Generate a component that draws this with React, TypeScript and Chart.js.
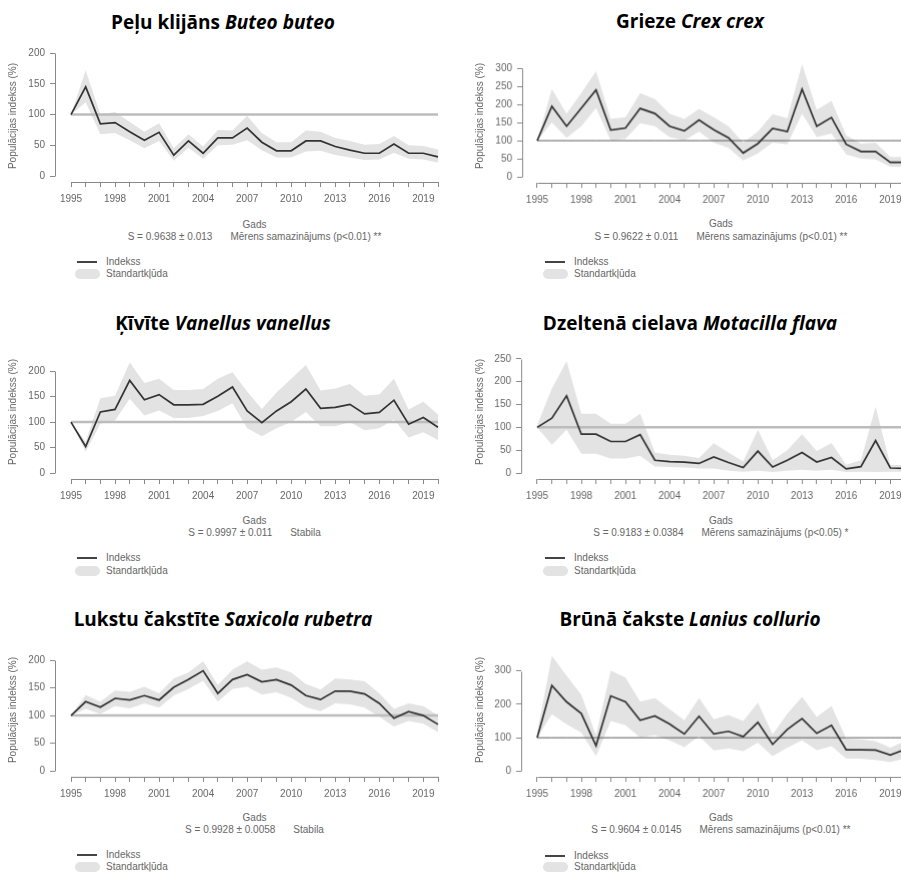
import React, { useEffect, useRef } from "react";
import { Chart, registerables } from "chart.js";
Chart.register(...registerables);

// ---------- DATA ----------
const years = [1995, 1996, 1997, 1998, 1999, 2000, 2001, 2002, 2003, 2004, 2005, 2006, 2007, 2008, 2009, 2010, 2011, 2012, 2013, 2014, 2015, 2016, 2017, 2018, 2019, 2020];
const xLabelYears = [1995, 1998, 2001, 2004, 2007, 2010, 2013, 2016, 2019];
const referenceLevel = 100;

const buteoIndex = [100, 145, 85, 87, 72, 58, 71, 34, 57, 37, 62, 62, 78, 55, 41, 41, 57, 57, 48, 42, 37, 37, 52, 37, 37, 31];
const buteoUpper = [100, 172, 100, 104, 88, 72, 86, 45, 68, 48, 75, 74, 98, 70, 55, 55, 74, 72, 62, 57, 51, 52, 65, 50, 49, 43];
const buteoLower = [100, 120, 68, 70, 58, 45, 57, 25, 46, 28, 50, 51, 58, 42, 30, 30, 40, 41, 34, 30, 26, 27, 38, 28, 27, 22];
const buteoYTicks = [0, 50, 100, 150, 200];

const crexIndex = [100, 195, 140, 190, 240, 129, 135, 189, 175, 140, 127, 157, 130, 108, 66, 92, 134, 125, 242, 140, 164, 90, 70, 70, 40, 40];
const crexUpper = [100, 243, 175, 232, 292, 160, 165, 232, 215, 175, 160, 188, 165, 140, 95, 125, 173, 162, 312, 185, 210, 115, 92, 95, 55, 55];
const crexLower = [100, 150, 108, 140, 190, 100, 105, 148, 140, 110, 100, 125, 95, 80, 45, 65, 95, 90, 175, 110, 120, 62, 50, 48, 28, 28];
const crexYTicks = [0, 50, 100, 150, 200, 250, 300];

const vanellusIndex = [100, 52, 120, 125, 182, 144, 154, 134, 134, 135, 151, 169, 122, 99, 122, 140, 165, 127, 129, 135, 116, 119, 143, 96, 109, 90];
const vanellusUpper = [100, 62, 147, 152, 217, 177, 185, 163, 163, 165, 185, 198, 160, 126, 158, 185, 212, 162, 166, 175, 152, 154, 185, 125, 140, 115];
const vanellusLower = [100, 42, 97, 103, 146, 113, 123, 108, 108, 112, 122, 137, 88, 72, 88, 100, 120, 92, 92, 100, 84, 88, 105, 70, 80, 65];
const vanellusYTicks = [0, 50, 100, 150, 200];

const motacillaIndex = [100, 120, 169, 85, 85, 69, 69, 84, 28, 25, 24, 21, 35, 23, 12, 48, 13, 28, 45, 24, 34, 9, 14, 71, 11, 10];
const motacillaUpper = [105, 185, 245, 130, 130, 108, 108, 130, 45, 40, 38, 33, 65, 45, 25, 95, 28, 50, 85, 48, 66, 18, 28, 145, 18, 17];
const motacillaLower = [100, 62, 95, 42, 42, 32, 32, 38, 14, 13, 12, 10, 10, 5, 3, 5, 2, 5, 7, 5, 7, 2, 3, 2, 3, 3];
const motacillaYTicks = [0, 50, 100, 150, 200, 250];

const saxicolaIndex = [100, 125, 115, 131, 128, 136, 128, 151, 165, 181, 140, 165, 174, 161, 165, 155, 136, 129, 144, 144, 139, 122, 95, 107, 100, 84];
const saxicolaUpper = [100, 137, 125, 145, 143, 152, 140, 167, 178, 198, 155, 183, 198, 183, 187, 178, 157, 147, 167, 165, 162, 140, 112, 122, 117, 100];
const saxicolaLower = [100, 112, 103, 117, 113, 122, 114, 136, 148, 163, 125, 148, 152, 138, 142, 132, 115, 108, 122, 120, 114, 98, 80, 90, 85, 70];
const saxicolaYTicks = [0, 50, 100, 150, 200];

const laniusIndex = [100, 256, 207, 172, 76, 225, 207, 152, 165, 141, 111, 164, 111, 119, 103, 146, 80, 125, 157, 113, 137, 64, 64, 63, 48, 65];
const laniusUpper = [115, 345, 285, 228, 108, 300, 280, 208, 218, 185, 152, 218, 155, 168, 150, 205, 110, 172, 222, 162, 195, 97, 95, 90, 70, 90];
const laniusLower = [100, 170, 140, 115, 45, 150, 137, 100, 108, 92, 72, 105, 62, 68, 60, 85, 45, 70, 92, 63, 75, 38, 37, 33, 27, 38];
const laniusYTicks = [0, 100, 200, 300];

const xTitle = "Gads";
const yTitle = "Populācijas indekss (%)";
const legendLine = "Indekss";
const legendBand = "Standartkļūda";

// ---------- PANELS (text + layout) ----------
type PanelDef = {
  common: string; latin: string; statS: string; statTrend: string;
  index: number[]; upper: number[]; lower: number[]; yTicks: number[];
  refThin: boolean;
  cl: number; cx: number; axisX: number; x1995: number; x2020: number;
  axisY: number; y0: number; yTopPx: number; yMax: number;
  titleBase: number; yTitleX: number; yTitleY: number; gadsY: number; statY: number;
  legX: number; leg1Y: number; leg2Y: number; titleSize: number;
};

const panels: PanelDef[] = [
  { common: "Peļu klijāns", latin: "Buteo buteo", statS: "S = 0.9638 ± 0.013", statTrend: "Mērens samazinājums (p<0.01) **",
    index: buteoIndex, upper: buteoUpper, lower: buteoLower, yTicks: buteoYTicks, refThin: false,
    cl: 0, cx: 223, axisX: 55, x1995: 71, x2020: 438, axisY: 182, y0: 176, yTopPx: 53, yMax: 205,
    titleBase: 30, yTitleX: 13, yTitleY: 116, gadsY: 225, statY: 237, legX: 77, leg1Y: 262, leg2Y: 274, titleSize: 19 },
  { common: "Grieze", latin: "Crex crex", statS: "S = 0.9622 ± 0.011", statTrend: "Mērens samazinājums (p<0.01) **",
    index: crexIndex, upper: crexUpper, lower: crexLower, yTicks: crexYTicks, refThin: true,
    cl: 450, cx: 690, axisX: 522, x1995: 537, x2020: 904.7, axisY: 183, y0: 177, yTopPx: 68.5, yMax: 320,
    titleBase: 29, yTitleX: 480, yTitleY: 116, gadsY: 224, statY: 237, legX: 545, leg1Y: 262, leg2Y: 274, titleSize: 19 },
  { common: "Ķīvīte", latin: "Vanellus vanellus", statS: "S = 0.9997 ± 0.011", statTrend: "Stabila",
    index: vanellusIndex, upper: vanellusUpper, lower: vanellusLower, yTicks: vanellusYTicks, refThin: false,
    cl: 0, cx: 223, axisX: 55, x1995: 71, x2020: 438, axisY: 479.3, y0: 473.3, yTopPx: 371, yMax: 222,
    titleBase: 331, yTitleX: 13, yTitleY: 412, gadsY: 521, statY: 533, legX: 77, leg1Y: 558, leg2Y: 571, titleSize: 19 },
  { common: "Dzeltenā cielava", latin: "Motacilla flava", statS: "S = 0.9183 ± 0.0384", statTrend: "Mērens samazinājums (p<0.05) *",
    index: motacillaIndex, upper: motacillaUpper, lower: motacillaLower, yTicks: motacillaYTicks, refThin: false,
    cl: 450, cx: 690, axisX: 521, x1995: 537, x2020: 904.7, axisY: 479.3, y0: 473.3, yTopPx: 359, yMax: 252,
    titleBase: 331, yTitleX: 480, yTitleY: 412, gadsY: 521, statY: 533, legX: 545, leg1Y: 558, leg2Y: 571, titleSize: 19 },
  { common: "Lukstu čakstīte", latin: "Saxicola rubetra", statS: "S = 0.9928 ± 0.0058", statTrend: "Stabila",
    index: saxicolaIndex, upper: saxicolaUpper, lower: saxicolaLower, yTicks: saxicolaYTicks, refThin: false,
    cl: 0, cx: 223, axisX: 55, x1995: 71, x2020: 438, axisY: 776.7, y0: 770.7, yTopPx: 660, yMax: 202,
    titleBase: 627, yTitleX: 13, yTitleY: 710, gadsY: 818, statY: 830, legX: 77, leg1Y: 855, leg2Y: 867, titleSize: 19 },
  { common: "Brūnā čakste", latin: "Lanius collurio", statS: "S = 0.9604 ± 0.0145", statTrend: "Mērens samazinājums (p<0.01) **",
    index: laniusIndex, upper: laniusUpper, lower: laniusLower, yTicks: laniusYTicks, refThin: true,
    cl: 450, cx: 690, axisX: 521, x1995: 537, x2020: 904.7, axisY: 776.7, y0: 771, yTopPx: 670.7, yMax: 350,
    titleBase: 627, yTitleX: 480, yTitleY: 710, gadsY: 818, statY: 830, legX: 545, leg1Y: 856, leg2Y: 867, titleSize: 19 },
];

const SMALL_FONT = '"Liberation Sans", Arial, sans-serif';
const TEXT_GRAY = "#666";
const AXIS_GRAY = "#888";
const BAND = "#e3e3e3";
const LINE = "#333";

function geometry(p: PanelDef) {
  const k = (p.x2020 - p.x1995) / 25;
  const areaRight = p.x2020 + 8;
  const xMin = 1995 - (p.x1995 - p.axisX) / k;
  const xMax = 2020 + (areaRight - p.x2020) / k;
  const topVal = p.yTicks[p.yTicks.length - 1];
  const s = (p.y0 - p.yTopPx) / topVal;
  const yMin = -(p.axisY - p.y0) / s;
  const areaTop = p.y0 - p.yMax * s;
  const padTop = 10;
  const xH = 30;
  const ct = areaTop - padTop;
  const cw = areaRight - p.cl;
  const ch = p.axisY + xH - ct;
  return { xMin, xMax, yMin, ct, cw, ch, padTop, xH };
}

const rAxes = {
  id: "rAxes",
  afterDraw(chart: any) {
    const { ctx, chartArea } = chart;
    const xs = chart.scales.x;
    const ys = chart.scales.y;
    const ticks: number[] = chart.options.plugins.rAxes.yTicks;
    ctx.save();
    ctx.strokeStyle = AXIS_GRAY;
    ctx.lineWidth = 1;
    const ax = Math.round(chartArea.left) + 0.5;
    ctx.beginPath();
    ctx.moveTo(ax, Math.round(ys.getPixelForValue(ticks[0])) + 0.5);
    ctx.lineTo(ax, Math.round(ys.getPixelForValue(ticks[ticks.length - 1])) + 0.5);
    ctx.stroke();
    const ay = Math.round(chartArea.bottom) + 0.5;
    ctx.beginPath();
    ctx.moveTo(Math.round(xs.getPixelForValue(years[0])) + 0.5, ay);
    ctx.lineTo(Math.round(xs.getPixelForValue(years[years.length - 1])) + 0.5, ay);
    ctx.stroke();
    ctx.restore();
  },
};

function Panel({ p }: { p: PanelDef }) {
  const ref = useRef<HTMLCanvasElement>(null);
  const g = geometry(p);
  useEffect(() => {
    if (!ref.current) return;
    const pts = (arr: number[]) => years.map((y, i) => ({ x: y, y: arr[i] }));
    const chart = new Chart(ref.current, {
      type: "line",
      data: {
        datasets: [
          { data: pts(p.index), borderColor: LINE, borderWidth: 1.7, pointRadius: 0, fill: false, tension: 0 },
          { data: years.map((y) => ({ x: y, y: referenceLevel })), borderColor: p.refThin ? "#5e5e5e" : "#bcbcbc",
            borderWidth: p.refThin ? 1 : 2.5, pointRadius: 0, fill: false },
          { data: pts(p.upper), borderWidth: 0, borderColor: "rgba(0,0,0,0)", backgroundColor: BAND, pointRadius: 0, fill: "+1" },
          { data: pts(p.lower), borderWidth: 0, borderColor: "rgba(0,0,0,0)", backgroundColor: BAND, pointRadius: 0, fill: false },
        ],
      } as any,
      options: {
        animation: false,
        responsive: false,
        events: [],
        layout: { padding: { top: g.padTop, left: 0, right: 0, bottom: 0 }, autoPadding: false } as any,
        plugins: { legend: { display: false }, tooltip: { enabled: false }, rAxes: { yTicks: p.yTicks } } as any,
        scales: {
          x: {
            type: "linear", min: g.xMin, max: g.xMax,
            afterBuildTicks: (sc: any) => { sc.ticks = years.filter((v) => v >= g.xMin && v <= g.xMax).map((v) => ({ value: v })); },
            afterFit: (sc: any) => { sc.height = g.xH; sc.paddingLeft = 0; sc.paddingRight = 0; sc.paddingTop = 0; sc.paddingBottom = 0; },
            ticks: {
              autoSkip: false, maxRotation: 0, minRotation: 0, padding: 6, color: TEXT_GRAY,
              font: { family: SMALL_FONT, size: 10 },
              callback: (v: any) => (xLabelYears.includes(Number(v)) ? String(v) : ""),
            },
            grid: { display: true, drawOnChartArea: false, drawTicks: true, tickLength: 5, color: AXIS_GRAY, lineWidth: 1 },
            border: { display: false },
          },
          y: {
            type: "linear", min: g.yMin, max: p.yMax,
            afterBuildTicks: (sc: any) => { sc.ticks = p.yTicks.map((v) => ({ value: v })); },
            afterFit: (sc: any) => { sc.width = p.axisX - p.cl; sc.paddingLeft = 0; sc.paddingRight = 0; sc.paddingTop = 0; sc.paddingBottom = 0; },
            ticks: { padding: 5, color: TEXT_GRAY, font: { family: SMALL_FONT, size: 10 }, callback: (v: any) => String(v) },
            grid: { display: true, drawOnChartArea: false, drawTicks: true, tickLength: 5, color: AXIS_GRAY, lineWidth: 1 },
            border: { display: false },
          },
        },
      } as any,
      plugins: [rAxes as any],
    });
    return () => chart.destroy();
  }, [p]);

  const small: React.CSSProperties = { position: "absolute", fontFamily: SMALL_FONT, fontSize: 10, lineHeight: "10px", color: TEXT_GRAY, whiteSpace: "nowrap" };
  const plotCx = (p.x1995 + p.x2020) / 2;
  return (
    <>
      <canvas ref={ref} width={g.cw} height={g.ch}
        style={{ position: "absolute", left: p.cl, top: g.ct, width: g.cw, height: g.ch }} />
      <div style={{ position: "absolute", left: p.cx - 225, width: 450, top: p.titleBase - 0.888 * p.titleSize,
        fontFamily: '"Open Sans", "Noto Sans", sans-serif', fontWeight: 700, fontSize: p.titleSize,
        lineHeight: p.titleSize + "px", textAlign: "center", color: "#000", whiteSpace: "nowrap" }}>
        {p.common} <i>{p.latin}</i>
      </div>
      <div style={{ ...small, left: p.yTitleX - 100, top: p.yTitleY - 5, width: 200, textAlign: "center", transform: "rotate(-90deg)" }}>{yTitle}</div>
      <div style={{ ...small, left: plotCx - 100, top: p.gadsY - 5, width: 200, textAlign: "center" }}>{xTitle}</div>
      <div style={{ ...small, left: plotCx - 200, top: p.statY - 5, width: 400, display: "flex", justifyContent: "center", gap: 18 }}>
        <span>{p.statS}</span><span>{p.statTrend}</span>
      </div>
      <div style={{ position: "absolute", left: p.legX, top: p.leg1Y - 1, width: 20, height: 2, background: "#444" }} />
      <div style={{ ...small, left: p.legX + 29, top: p.leg1Y - 5 }}>{legendLine}</div>
      <div style={{ position: "absolute", left: p.legX - 2, top: p.leg2Y - 5, width: 25, height: 10, borderRadius: 5, background: BAND }} />
      <div style={{ ...small, left: p.legX + 29, top: p.leg2Y - 5 }}>{legendBand}</div>
    </>
  );
}

export default function App() {
  return (
    <div style={{ position: "absolute", left: 0, top: 0, width: 901, height: 875, overflow: "hidden", background: "#fff" }}>
      {panels.map((p, i) => <Panel key={i} p={p} />)}
    </div>
  );
}
